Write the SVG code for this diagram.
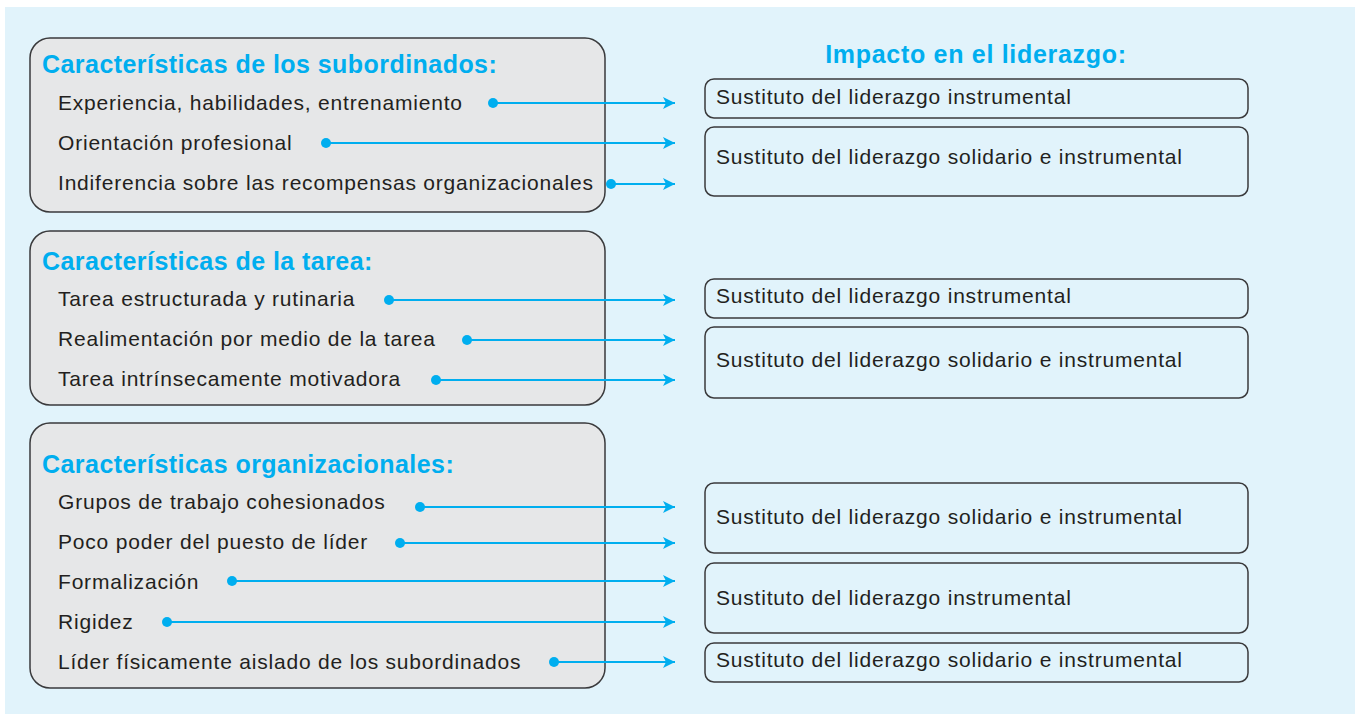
<svg xmlns="http://www.w3.org/2000/svg" width="1355" height="714" viewBox="0 0 1355 714">
<defs>
<style>
.bg{fill:#e1f3fb}
.lbox{fill:#e6e7e8;stroke:#3a3a3c;stroke-width:1.5}
.rbox{fill:#e1f3fb;stroke:#3a3a3c;stroke-width:1.5}
.title{font-family:"Liberation Sans",Arial,sans-serif;font-weight:bold;font-size:25px;letter-spacing:0.45px;fill:#00aeef}
.item{font-family:"Liberation Sans",Arial,sans-serif;font-size:21px;letter-spacing:0.8px;fill:#231f20}
.conn line{stroke:#00aeef;stroke-width:2.2;fill:none}
.conn circle{fill:#00aeef}
</style>
<marker id="arr" viewBox="0 0 10 10" refX="10" refY="5" markerWidth="18" markerHeight="12" markerUnits="userSpaceOnUse" orient="auto">
<path d="M0,0 L10,5 L0,10 L2.5,5 Z" fill="#00aeef"/>
</marker>
</defs>
<rect class="bg" x="5" y="7" width="1350" height="707"/>

<g id="subordinados">
<rect class="lbox" x="30" y="38" width="575" height="174" rx="20"/>
<text class="title" x="42" y="73">Características de los subordinados:</text>
<text class="item" x="58" y="110">Experiencia, habilidades, entrenamiento</text>
<text class="item" x="58" y="150">Orientación profesional</text>
<text class="item" x="58" y="190">Indiferencia sobre las recompensas organizacionales</text>
</g>
<g id="tarea">
<rect class="lbox" x="30" y="231" width="575" height="174" rx="20"/>
<text class="title" x="42" y="270">Características de la tarea:</text>
<text class="item" x="58" y="306">Tarea estructurada y rutinaria</text>
<text class="item" x="58" y="346">Realimentación por medio de la tarea</text>
<text class="item" x="58" y="386">Tarea intrínsecamente motivadora</text>
</g>
<g id="organizacionales">
<rect class="lbox" x="30" y="423" width="575" height="265" rx="20"/>
<text class="title" x="42" y="473">Características organizacionales:</text>
<text class="item" x="58" y="509">Grupos de trabajo cohesionados</text>
<text class="item" x="58" y="549">Poco poder del puesto de líder</text>
<text class="item" x="58" y="589">Formalización</text>
<text class="item" x="58" y="629">Rigidez</text>
<text class="item" x="58" y="669">Líder físicamente aislado de los subordinados</text>
</g>

<g id="impacto-titulo">
<text class="title" x="976" y="63" text-anchor="middle" style="letter-spacing:0.7px">Impacto en el liderazgo:</text>
</g>
<g id="r1"><rect class="rbox" x="705" y="79" width="543" height="39" rx="9"/><text class="item" x="716" y="104">Sustituto del liderazgo instrumental</text></g>
<g id="r2"><rect class="rbox" x="705" y="127" width="543" height="69" rx="9"/><text class="item" x="716" y="164">Sustituto del liderazgo solidario e instrumental</text></g>
<g id="r3"><rect class="rbox" x="705" y="279" width="543" height="39" rx="9"/><text class="item" x="716" y="303">Sustituto del liderazgo instrumental</text></g>
<g id="r4"><rect class="rbox" x="705" y="327" width="543" height="71" rx="9"/><text class="item" x="716" y="367">Sustituto del liderazgo solidario e instrumental</text></g>
<g id="r5"><rect class="rbox" x="705" y="483" width="543" height="70" rx="9"/><text class="item" x="716" y="524">Sustituto del liderazgo solidario e instrumental</text></g>
<g id="r6"><rect class="rbox" x="705" y="563" width="543" height="70" rx="9"/><text class="item" x="716" y="605">Sustituto del liderazgo instrumental</text></g>
<g id="r7"><rect class="rbox" x="705" y="643" width="543" height="39" rx="9"/><text class="item" x="716" y="667">Sustituto del liderazgo solidario e instrumental</text></g>

<g id="connectors" class="conn">
<circle cx="493" cy="103" r="5"/><line x1="493" y1="103" x2="675" y2="103" marker-end="url(#arr)"/>
<circle cx="326" cy="143" r="5"/><line x1="326" y1="143" x2="675" y2="143" marker-end="url(#arr)"/>
<circle cx="611" cy="184" r="5"/><line x1="611" y1="184" x2="675" y2="184" marker-end="url(#arr)"/>
<circle cx="389" cy="300" r="5"/><line x1="389" y1="300" x2="675" y2="300" marker-end="url(#arr)"/>
<circle cx="467" cy="340" r="5"/><line x1="467" y1="340" x2="675" y2="340" marker-end="url(#arr)"/>
<circle cx="436" cy="380" r="5"/><line x1="436" y1="380" x2="675" y2="380" marker-end="url(#arr)"/>
<circle cx="420" cy="507" r="5"/><line x1="420" y1="507" x2="675" y2="507" marker-end="url(#arr)"/>
<circle cx="400" cy="543" r="5"/><line x1="400" y1="543" x2="675" y2="543" marker-end="url(#arr)"/>
<circle cx="232" cy="581" r="5"/><line x1="232" y1="581" x2="675" y2="581" marker-end="url(#arr)"/>
<circle cx="167" cy="622" r="5"/><line x1="167" y1="622" x2="675" y2="622" marker-end="url(#arr)"/>
<circle cx="554" cy="662" r="5"/><line x1="554" y1="662" x2="675" y2="662" marker-end="url(#arr)"/>
</g>
</svg>
